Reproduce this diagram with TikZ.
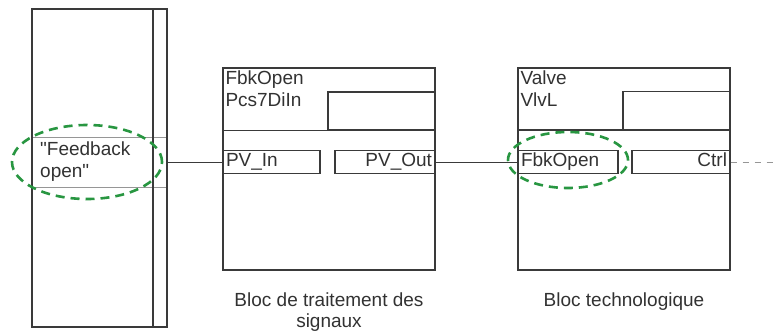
\documentclass[tikz,border=0pt]{standalone}
\usepackage{fontspec}
\setmainfont{Liberation Sans}
\usetikzlibrary{shapes.geometric}
\definecolor{linegray}{RGB}{58,58,58}
\definecolor{textgray}{RGB}{50,50,50}
\definecolor{rowgray}{RGB}{150,150,150}
\definecolor{markgreen}{RGB}{40,150,65}
\begin{document}
\begin{tikzpicture}[x=1pt, y=-1pt,
  every node/.style={font=\fontsize{19}{22}\selectfont, text=textgray},
  block/.style={draw=linegray, line width=1.4pt, minimum width=212pt, minimum height=202pt, inner sep=0pt},
  head/.style={draw=linegray, line width=1.2pt, minimum width=107pt, minimum height=38pt, inner sep=0pt},
  port/.style={draw=linegray, line width=1.2pt, minimum height=21pt, inner sep=3pt, text height=13pt, text depth=4pt},
  title/.style={anchor=north west, align=left, inner sep=3pt},
  highlight/.style={draw=markgreen, ellipse, dash pattern=on 9pt off 6pt, line width=2.6pt},
  wire/.style={draw=linegray, line width=0.8pt}
]
  \useasboundingbox (0,0) rectangle (774,333);

  % Symbol table
  \node[draw=rowgray, line width=0.8pt, minimum width=135pt, minimum height=50pt, inner sep=0pt] (fbrow) at (99.5,162) {};
  \node[draw=linegray, line width=1.4pt, minimum width=135pt, minimum height=318pt, inner sep=0pt] (symtab) at (99.5,168) {};
  \coordinate (rim) at (153,9);
  \draw[linegray, line width=2.4pt] (rim) -- (rim |- symtab.south);
  \node[anchor=west, align=left, inner sep=2pt] (fbtext) at (38,162) {\textquotedbl Feedback\\open\textquotedbl};
  \node[highlight, minimum width=150pt, minimum height=74pt] (mark1) at (87,162) {};

  % Blocks
  \node[block] (sigblk) at (329,169) {};
  \node[head] (sighead) at (381.5,111) {};
  \draw[linegray, line width=1.4pt] (sigblk.west |- sighead.south) -- (sighead.south east);
  \node[title] (signame) at (sigblk.north west) {FbkOpen\\Pcs7DiIn};

  \node[block] (techblk) at (624,169) {};
  \node[head] (techhead) at (676.5,110.5) {};
  \draw[linegray, line width=1.4pt] (techblk.west |- techhead.south) -- (techhead.south east);
  \node[title] (techname) at (techblk.north west) {Valve\\VlvL};

  % Ports
  \node[port, minimum width=97pt, text width=91pt, align=left] (pvin) at (271.5,162) {PV\_In};
  \node[port, minimum width=100pt, text width=94pt, align=right] (pvout) at (385,162) {PV\_Out};
  \node[port, minimum width=100pt, text width=94pt, align=left] (fbkopen) at (568,162) {FbkOpen};
  \node[port, minimum width=98pt, text width=92pt, align=right] (ctrl) at (681,162) {Ctrl};
  \node[highlight, minimum width=120pt, minimum height=56pt] (mark2) at (568,160) {};

  % Connectors
  \coordinate (ctrlout) at (774,162);
  \draw[wire] (fbrow.east) -- (pvin.west);
  \draw[wire] (pvout.east) -- (fbkopen.west);
  \draw[rowgray, line width=1pt, dash pattern=on 6pt off 6pt] (ctrl.east) -- (ctrlout);

  % Captions
  \node[align=center, font=\fontsize{19}{21}\selectfont] (sigcap) at (329,312) {Bloc de traitement des\\signaux};
  \node[align=center] (techcap) at (624,302) {Bloc technologique};
\end{tikzpicture}
\end{document}
